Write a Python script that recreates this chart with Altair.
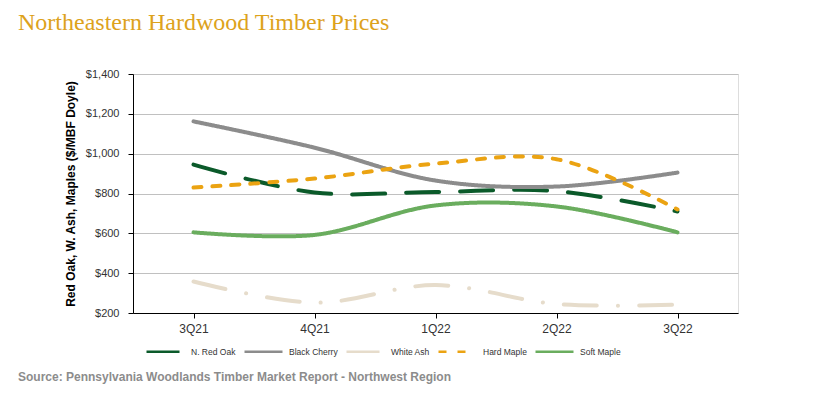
import altair as alt
import pandas as pd

quarters = ["3Q21", "4Q21", "1Q22", "2Q22", "3Q22"]
series = ["N. Red Oak", "Black Cherry", "White Ash", "Hard Maple", "Soft Maple"]
red_oak = [945, 805, 808, 812, 710]
black_cherry = [1162, 1030, 865, 835, 905]
white_ash = [358, 252, 340, 245, 242]
hard_maple = [830, 875, 950, 972, 720]
soft_maple = [605, 592, 740, 735, 605]

colors = ["#0B5A2A", "#8C8C8C", "#E6DCCB", "#EBA312", "#6AAD5E"]
dashes = [[33, 21], [1, 0], [33, 21, 0.1, 21], [8, 11], [1, 0]]

rows = []
for name, vals in zip(series, [red_oak, black_cherry, white_ash, hard_maple, soft_maple]):
    for q, v in zip(quarters, vals):
        rows.append({"quarter": q, "series": name, "value": v})
df = pd.DataFrame(rows)

lines = alt.Chart(df).mark_line(interpolate="catmull-rom", strokeWidth=4, strokeCap="round").encode(
    x=alt.X("quarter:N", sort=quarters, title=None,
            scale=alt.Scale(paddingInner=0, paddingOuter=0),
            axis=alt.Axis(labelAngle=0, bandPosition=0, ticks=True, tickSize=5, tickColor="#000000",
                          domainColor="#000000", domainWidth=1, labelFontSize=12, labelColor="#333333",
                          labelFont="Liberation Sans", labelPadding=5, grid=False,
                          labelBound=False)),
    y=alt.Y("value:Q", title="Red Oak, W. Ash, Maples ($/MBF Doyle)",
            scale=alt.Scale(domain=[200, 1400], nice=False, zero=False),
            axis=alt.Axis(values=[200, 400, 600, 800, 1000, 1200, 1400], format="$,.0f",
                          tickSize=5, tickColor="#000000", domainColor="#000000",
                          labelFontSize=11, labelColor="#333333", labelFont="Liberation Sans",
                          labelPadding=9, gridColor="#C0C0C0", gridWidth=1,
                          titleFont="Liberation Sans", titleFontSize=12, titleFontWeight="bold",
                          titleColor="#000000", titlePadding=8)),
    color=alt.Color("series:N", scale=alt.Scale(domain=series, range=colors),
                    sort=series,
                    legend=alt.Legend(title=None, orient="none", direction="horizontal",
                                      legendX=12, legendY=257, symbolType="stroke",
                                      symbolSize=1444, symbolStrokeWidth=2.5, labelFontSize=8.5,
                                      labelFont="Liberation Sans", labelColor="#333333",
                                      columnPadding=3, labelOffset=5)),
    strokeDash=alt.StrokeDash("series:N", scale=alt.Scale(domain=series, range=dashes),
                              sort=series, legend=None),
    detail="series:N",
)

title_df = pd.DataFrame({"t": ["Northeastern Hardwood Timber Prices"]})
title = alt.Chart(title_df).mark_text(font="Liberation Serif", fontSize=24, color="#DDA21C",
                                      align="left", baseline="alphabetic").encode(
    x=alt.value(-115), y=alt.value(-44), text="t:N")

src_df = pd.DataFrame({"t": ["Source: Pennsylvania Woodlands Timber Market Report - Northwest Region"]})
source = alt.Chart(src_df).mark_text(font="Liberation Sans", fontSize=12, fontWeight="bold",
                                     color="#8C8C8C", align="left", baseline="alphabetic").encode(
    x=alt.value(-115), y=alt.value(307), text="t:N")

chart = alt.layer(lines, title, source).properties(
    width=605, height=239,
    autosize=alt.AutoSizeParams(type="none"),
    padding={"left": 125, "top": 66, "right": 78, "bottom": 75},
).configure_view(stroke=None).configure(background="#FFFFFF")

chart.save("out.html", embed_options={"renderer": "svg", "actions": False})
